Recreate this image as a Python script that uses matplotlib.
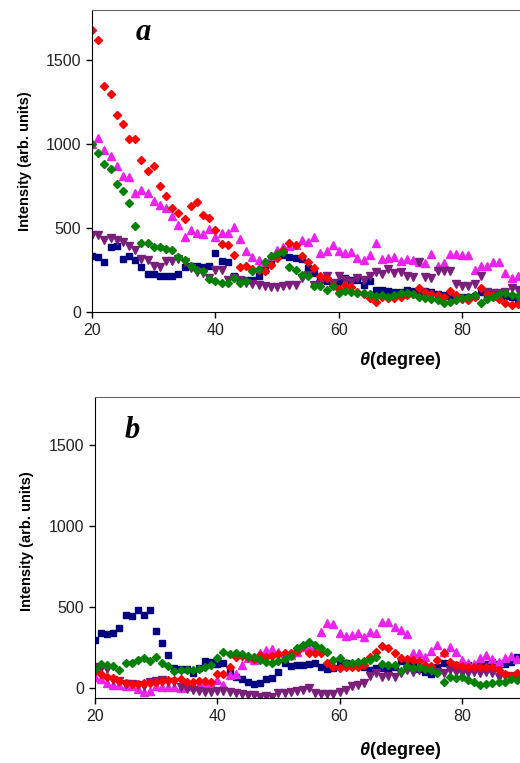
import matplotlib
matplotlib.use('Agg')
import matplotlib.pyplot as plt

plt.rcParams['font.family'] = ['Liberation Sans', 'DejaVu Sans']
plt.rcParams['mathtext.fontset'] = 'custom'
plt.rcParams['mathtext.it'] = 'Liberation Sans:italic:bold'
plt.rcParams['mathtext.rm'] = 'Liberation Sans:bold'

theta = list(range(20, 90))

# panel a
red_a = [1680, 1620, 1350, 1300, 1175, 1120, 1030, 1030, 905, 840,
         870, 750, 690, 620, 590, 555, 630, 655, 580, 560,
         490, 405, 400, 340, 270, 275, 255, 250, 245, 280,
         320, 372, 412, 402, 332, 298, 260, 212, 200, 160,
         136, 162, 150, 122, 110, 82, 62, 88, 82, 82,
         90, 100, 110, 142, 120, 110, 100, 90, 126, 100,
         80, 70, 90, 142, 110, 100, 80, 52, 42, 50]
green_a = [1000, 945, 880, 850, 765, 720, 650, 510, 412, 412,
           386, 386, 376, 368, 328, 308, 272, 248, 242, 198,
           186, 172, 172, 202, 172, 182, 242, 256, 298, 332,
           346, 356, 266, 252, 222, 212, 156, 152, 132, 156,
           116, 128, 122, 116, 112, 105, 96, 102, 88, 102,
           116, 112, 106, 92, 82, 76, 72, 52, 62, 72,
           82, 92, 102, 52, 76, 92, 108, 112, 100, 95]
magenta_a = [1000, 1040, 966, 928, 872, 812, 802, 708, 728, 708,
             662, 636, 622, 572, 516, 446, 488, 468, 462, 496,
             446, 472, 472, 508, 436, 362, 326, 308, 300, 335,
             370, 385, 392, 402, 428, 418, 446, 352, 362, 402,
             362, 352, 358, 322, 312, 338, 412, 316, 322, 326,
             302, 318, 308, 300, 292, 346, 272, 292, 346, 346,
             338, 338, 252, 276, 276, 296, 296, 230, 202, 216]
purple_a = [460, 456, 432, 442, 428, 416, 392, 372, 316, 308,
            272, 268, 302, 302, 316, 300, 260, 240, 230, 200,
            250, 252, 190, 200, 190, 175, 168, 162, 156, 148,
            148, 152, 162, 162, 202, 222, 162, 168, 216, 172,
            216, 190, 176, 202, 192, 212, 236, 228, 256, 232,
            236, 216, 208, 298, 208, 202, 246, 242, 242, 168,
            152, 152, 168, 212, 122, 112, 112, 120, 142, 132]
blue_a = [335, 328, 296, 386, 392, 316, 336, 308, 268, 228,
          228, 216, 216, 212, 228, 268, 276, 276, 270, 276,
          352, 302, 296, 216, 188, 190, 188, 216, 252, 290,
          332, 340, 330, 322, 316, 262, 232, 192, 182, 172,
          180, 202, 192, 188, 162, 182, 132, 130, 125, 120,
          122, 132, 128, 120, 128, 122, 110, 100, 95, 92,
          90, 88, 95, 122, 102, 100, 110, 96, 88, 76]

# panel b
blue_b = [298, 339, 333, 339, 374, 453, 448, 484, 453, 484,
          353, 277, 205, 126, 118, 118, 91, 122, 167, 159,
          150, 153, 101, 70, 54, 39, 25, 33, 54, 60,
          101, 157, 136, 143, 143, 149, 153, 128, 116, 122,
          157, 153, 150, 150, 130, 112, 122, 122, 116, 130,
          167, 160, 150, 120, 100, 87, 132, 153, 140, 145,
          140, 140, 130, 140, 150, 163, 149, 150, 163, 190]
green_b = [120, 147, 140, 138, 112, 153, 153, 174, 184, 167,
           194, 153, 138, 105, 112, 112, 110, 118, 128, 140,
           188, 221, 209, 219, 211, 200, 190, 175, 163, 153,
           169, 178, 200, 246, 267, 287, 267, 246, 225, 174,
           184, 153, 157, 163, 169, 175, 190, 149, 143, 143,
           107, 136, 122, 132, 120, 110, 90, 39, 66, 60,
           66, 50, 39, 19, 25, 33, 39, 39, 54, 50]
red_b = [105, 85, 70, 60, 45, 29, 23, 23, 29, 29,
         35, 45, 50, 52, 56, 40, 40, 45, 45, 40,
         85, 85, 132, 194, 198, 190, 178, 205, 194, 198,
         211, 215, 215, 230, 260, 215, 215, 215, 157, 132,
         122, 128, 132, 128, 140, 194, 225, 260, 250, 215,
         184, 178, 174, 169, 143, 136, 174, 219, 160, 143,
         136, 132, 128, 128, 128, 128, 110, 87, 74, 95]
magenta_b = [70, 54, 29, 19, 19, 12, 12, -5, -23, -19,
             12, 5, 5, 3, 0, 10, 15, 20, 30, 25,
             50, 19, 81, 87, 143, 184, 174, 219, 236, 240,
             225, 215, 205, 225, 256, 246, 256, 349, 405, 397,
             339, 322, 329, 343, 314, 349, 339, 411, 411, 380,
             360, 335, 215, 215, 194, 231, 267, 225, 253, 225,
             174, 153, 150, 184, 205, 180, 160, 185, 200, 180]
purple_b = [128, 122, 116, 50, 45, 25, 25, 20, 10, 39,
            45, 50, 35, 35, 4, -8, -12, -17, -25, -25,
            -20, -18, -23, -33, -37, -43, -43, -54, -50, -58,
            -33, -29, -23, -17, -12, -2, -33, -37, -37, -37,
            -23, -12, 12, 19, 30, 74, 95, 70, 74, 70,
            90, 110, 100, 112, 116, 105, 100, 95, 110, 100,
            90, 95, 100, 95, 100, 90, 70, 75, 72, 66]

fig = plt.figure(figsize=(5.2, 7.63), dpi=100)
ax1 = fig.add_axes([92 / 520, 1 - 312 / 763, 432 / 520, 302 / 763])
ax2 = fig.add_axes([95 / 520, 1 - 698 / 763, 428 / 520, 301 / 763])


def draw(ax, blue, magenta, purple, red, green):
    ax.plot(theta, blue, 's', color='#000080', ms=4.5, ls='none')
    ax.plot(theta, magenta, '^', color='#EE22EE', ms=5.3, ls='none')
    ax.plot(theta, purple, 'v', color='#7A1F7A', ms=5.3, ls='none')
    ax.plot(theta, red, 'D', color='#FF0000', ms=4.2, ls='none')
    ax.plot(theta, green, 'D', color='#008000', ms=4.2, ls='none')
    ax.set_xlim(20, 90)
    ax.set_xticks([20, 40, 60, 80])
    ax.set_yticks([0, 500, 1000, 1500])
    ax.tick_params(direction='out', length=4, width=1, labelsize=11.5,
                   labelcolor='#222222', pad=4)
    ax.spines['top'].set_color('#666666')
    ax.spines['right'].set_visible(False)
    for s in ('left', 'bottom'):
        ax.spines[s].set_color('black')


draw(ax1, blue_a, magenta_a, purple_a, red_a, green_a)
ax1.set_ylim(0, 1800)
draw(ax2, blue_b, magenta_b, purple_b, red_b, green_b)
ax2.set_ylim(-62, 1800)

for ax, letter, lx, ly, yl, tx, ty in [
        (ax1, 'a', 0.118, 0.924, 0.5, -0.155, -0.159),
        (ax2, 'b', 0.086, 0.89, 0.52, -0.159, -0.173)]:
    ax.text(lx, ly, letter, transform=ax.transAxes, ha='center', va='center',
            fontsize=22, fontweight='bold', fontstyle='italic',
            family='Liberation Serif')
    ax.text(tx, yl, 'Intensity (arb. units)', transform=ax.transAxes,
            rotation=90, ha='center', va='center', fontsize=10.5,
            fontweight='bold')
    ax.text(0.713, ty, r'$\theta$(degree)', transform=ax.transAxes,
            ha='center', va='center', fontsize=13, fontweight='bold')

fig.savefig('out.png', dpi=100)
